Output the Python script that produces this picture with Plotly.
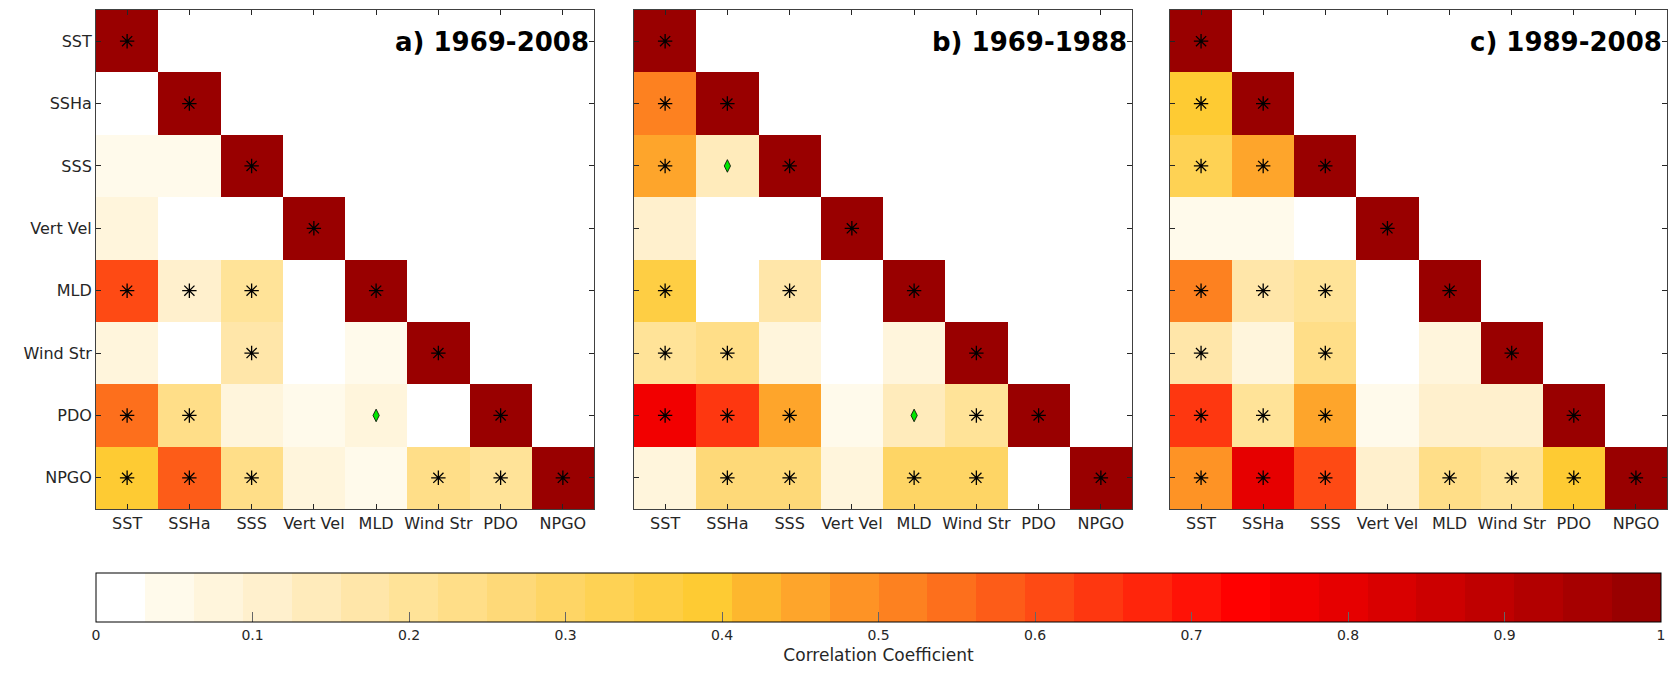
import plotly.graph_objects as go

variables = ["SST", "SSHa", "SSS", "Vert Vel", "MLD", "Wind Str", "PDO", "NPGO"]
panel_titles = ["a) 1969-2008", "b) 1969-1988", "c) 1989-2008"]

# Lower-triangle correlation coefficients (row i holds columns 0..i)
corr_a = [
    [1.00],
    [0.01, 1.00],
    [0.05, 0.05, 1.00],
    [0.08, 0.01, 0.01, 1.00],
    [0.61, 0.11, 0.20, 0.01, 1.00],
    [0.08, 0.01, 0.18, 0.01, 0.05, 1.00],
    [0.55, 0.23, 0.08, 0.05, 0.08, 0.01, 1.00],
    [0.39, 0.58, 0.24, 0.08, 0.05, 0.23, 0.21, 1.00],
]
corr_b = [
    [1.00],
    [0.52, 1.00],
    [0.45, 0.14, 1.00],
    [0.11, 0.01, 0.01, 1.00],
    [0.36, 0.01, 0.17, 0.01, 1.00],
    [0.20, 0.23, 0.08, 0.01, 0.08, 1.00],
    [0.76, 0.64, 0.45, 0.05, 0.14, 0.20, 1.00],
    [0.07, 0.27, 0.27, 0.08, 0.30, 0.29, 0.02, 1.00],
]
corr_c = [
    [1.00],
    [0.39, 1.00],
    [0.33, 0.45, 1.00],
    [0.05, 0.05, 0.01, 1.00],
    [0.51, 0.17, 0.20, 0.01, 1.00],
    [0.17, 0.08, 0.23, 0.01, 0.08, 1.00],
    [0.64, 0.20, 0.45, 0.05, 0.11, 0.11, 1.00],
    [0.48, 0.79, 0.61, 0.10, 0.23, 0.21, 0.39, 1.00],
]

# Significance flags: '*' significant, 'd' marginal, '.' none
sig_a = ["*", ".*", "..*", "...*", "***.*", "..*..*", "**..d.*", "***..***"]
sig_b = ["*", "**", "*d*", "...*", "*.*.*", "**...*", "***.d**", ".**.**.*"]
sig_c = ["*", "**", "***", "...*", "***.*", "*.*..*", "***...*", "***.****"]

# 32-step colour ramp from white through yellow/orange/red to dark red
bin_colors = [
    "#FFFFFF", "#FFFAEB", "#FFF5DC", "#FFF0CD", "#FFEBBB", "#FFE6A9", "#FFE398", "#FFDE88",
    "#FED978", "#FED565", "#FED254", "#FECE44", "#FECB33", "#FDB72E", "#FEA52B", "#FE9325",
    "#FD8120", "#FD6F1C", "#FD5C18", "#FE4A14", "#FE3710", "#FF250B", "#FF1206", "#FF0000",
    "#F20000", "#E60000", "#D90000", "#CC0000", "#BF0000", "#B20000", "#A60000", "#990000",
]
n_bins = len(bin_colors)
colorscale = []
for k, c in enumerate(bin_colors):
    colorscale.append([k / n_bins, c])
    colorscale.append([(k + 1) / n_bins, c])

W, H = 1673, 676
x_domains = [(96 / W, 594 / W), (634 / W, 1132 / W), (1170 / W, 1667 / W)]
y_domain = (1 - 509 / H, 1 - 10 / H)

fig = go.Figure()
n = len(variables)
idx = list(range(n))

panels = [(corr_a, sig_a), (corr_b, sig_b), (corr_c, sig_c)]
for p, (corr, sig) in enumerate(panels):
    xa = "x" if p == 0 else f"x{p + 1}"
    ya = "y" if p == 0 else f"y{p + 1}"
    z = [[corr[i][j] if j <= i else None for j in range(n)] for i in range(n)]
    fig.add_trace(go.Heatmap(
        z=z, x=idx, y=idx, xaxis=xa, yaxis=ya,
        zmin=0, zmax=1, colorscale=colorscale,
        showscale=(p == 0), hoverongaps=False, hoverinfo="skip",
        colorbar=dict(
            orientation="h",
            x=((96 + 1661) / 2) / W, xanchor="center",
            y=1 - 573 / H, yanchor="top",
            len=1565 / W, lenmode="fraction",
            thickness=49, thicknessmode="pixels",
            xpad=0, ypad=0,
            outlinecolor="#000000", outlinewidth=1,
            ticks="inside", ticklen=10, tickcolor="#666666", tickwidth=1,
            tickvals=[i / 10 for i in range(11)],
            ticktext=["0", "0.1", "0.2", "0.3", "0.4", "0.5", "0.6", "0.7", "0.8", "0.9", "1"],
            tickfont=dict(family="DejaVu Sans", size=14, color="#262626"),
            title=dict(text="Correlation Coefficient", side="bottom",
                       font=dict(family="DejaVu Sans", size=17, color="#262626")),
        ),
    ))
    star_x, star_y, dia_x, dia_y = [], [], [], []
    for i, row in enumerate(sig):
        for j, flag in enumerate(row):
            if flag == "*":
                star_x.append(j)
                star_y.append(i)
            elif flag == "d":
                dia_x.append(j)
                dia_y.append(i)
    fig.add_trace(go.Scatter(
        x=star_x, y=star_y, xaxis=xa, yaxis=ya, mode="markers",
        marker=dict(symbol="asterisk-open", size=12, color="#000000",
                    line=dict(color="#000000", width=1.3)),
        hoverinfo="skip", showlegend=False,
    ))
    fig.add_trace(go.Scatter(
        x=dia_x, y=dia_y, xaxis=xa, yaxis=ya, mode="markers",
        marker=dict(symbol="diamond-tall", size=9, color="#00E600",
                    line=dict(color="#000000", width=0.8)),
        hoverinfo="skip", showlegend=False,
    ))
    fig.add_annotation(
        text=f"<b>{panel_titles[p]}</b>", xref=f"{xa} domain", yref=f"{ya} domain",
        x=0.993, y=0.935, xanchor="right", yanchor="middle", showarrow=False,
        font=dict(family="DejaVu Sans", size=26, color="#000000"),
    )

axis_common = dict(
    ticks="inside", ticklen=5, tickcolor="#262626", tickwidth=1,
    showline=True, linecolor="#404040", linewidth=1, mirror="allticks",
    showgrid=False, zeroline=False,
    tickfont=dict(family="DejaVu Sans", size=16, color="#262626"),
)
layout = dict(
    width=W, height=H, margin=dict(l=0, r=0, t=0, b=0, autoexpand=False),
    paper_bgcolor="#FFFFFF", plot_bgcolor="#FFFFFF", showlegend=False,
)
for p in range(3):
    xk = "xaxis" if p == 0 else f"xaxis{p + 1}"
    yk = "yaxis" if p == 0 else f"yaxis{p + 1}"
    ya = "y" if p == 0 else f"y{p + 1}"
    xa = "x" if p == 0 else f"x{p + 1}"
    layout[xk] = dict(axis_common, domain=x_domains[p], anchor=ya,
                      range=[-0.5, n - 0.5], tickvals=idx, ticktext=variables)
    layout[yk] = dict(axis_common, domain=y_domain, anchor=xa,
                      range=[n - 0.5, -0.5], tickvals=idx, ticktext=variables,
                      showticklabels=(p == 0))
fig.update_layout(**layout)

fig.write_html("out.html")
